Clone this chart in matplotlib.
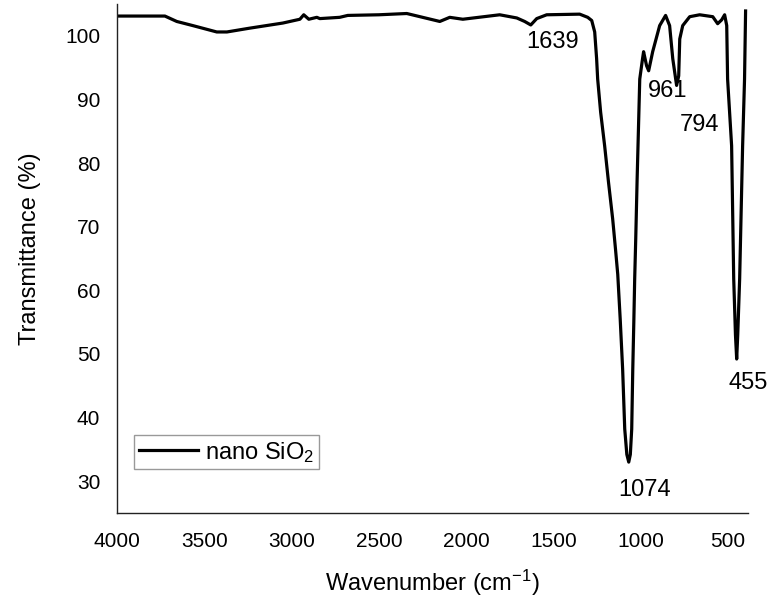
import matplotlib
matplotlib.use("Agg")
import matplotlib.pyplot as plt

plt.rcParams["font.family"] = ["Liberation Sans", "DejaVu Sans"]
plt.rcParams["mathtext.default"] = "regular"

# espectro FTIR
wavenumber = [4000, 3800, 3725, 3657, 3565, 3428, 3370, 3239, 3050, 2952,
              2930, 2901, 2855, 2838, 2724, 2678, 2500, 2340, 2151, 2094,
              2019, 1808, 1710, 1665, 1630, 1596, 1539, 1350, 1304, 1281,
              1264, 1253, 1247, 1230, 1207, 1185, 1161, 1145, 1132, 1118,
              1104, 1092, 1080, 1069, 1060, 1052, 1046, 1040, 1035, 1029,
              1021, 1012, 1006, 990, 984, 967, 955, 932, 892, 858,
              835, 817, 795, 783, 777, 760, 720, 663, 588, 560,
              537, 520, 508, 503, 480, 468, 458, 451, 445, 434,
              417, 406, 400]
transmittance = [103.1, 103.1, 103.1, 102.25, 101.6, 100.6, 100.6, 101.2, 102.0, 102.6,
                 103.3, 102.6, 102.9, 102.7, 102.9, 103.2, 103.3, 103.5, 102.25, 102.9,
                 102.6, 103.3, 102.8, 102.25, 101.7, 102.7, 103.3, 103.4, 102.9, 102.4,
                 100.6, 96.4, 93.2, 88.0, 82.7, 77.0, 71.2, 66.5, 62.5, 55.5,
                 47.6, 38.2, 34.2, 33.0, 34.2, 38.2, 47.6, 55.0, 61.8, 68.1,
                 77.5, 86.9, 93.2, 96.4, 97.5, 95.3, 94.5, 97.5, 101.6, 103.2,
                 101.6, 96.4, 92.2, 93.7, 99.5, 101.6, 103.0, 103.3, 103.0, 101.9,
                 102.5, 103.3, 101.6, 93.2, 82.7, 61.8, 53.0, 49.2, 53.0, 61.8,
                 82.7, 93.2, 103.9]

# etiquetas de picos: texto, x, y
picos = ["1639", "961", "794", "1074", "455"]
picos_x = [1507, 846, 663, 978, 385]
picos_y = [99.06, 91.27, 86.0, 28.66, 45.5]

fig = plt.figure(figsize=(7.74, 6.01), dpi=100)
ax = fig.add_axes([0.151, 0.1464, 0.815, 0.847])

ax.plot(wavenumber, transmittance, color="black", linewidth=2.3,
        solid_joinstyle="round", label="nano SiO$_2$")

for texto, x, y in zip(picos, picos_x, picos_y):
    ax.text(x, y, texto, ha="center", va="center", fontsize=17)

ax.set_xlim(4000, 388)
ax.set_ylim(25, 105)
ax.set_xticks([4000, 3500, 3000, 2500, 2000, 1500, 1000, 500])
ax.set_yticks([30, 40, 50, 60, 70, 80, 90, 100])
ax.tick_params(length=0, labelsize=15)
ax.tick_params(axis="x", pad=14)
ax.tick_params(axis="y", pad=12)

for lado in ["top", "right"]:
    ax.spines[lado].set_visible(False)
for lado in ["left", "bottom"]:
    ax.spines[lado].set_color("#222222")
    ax.spines[lado].set_linewidth(1.0)

ax.set_xlabel("Wavenumber (cm$^{-1}$)", fontsize=17)
ax.set_ylabel("Transmittance (%)", fontsize=17)
ax.xaxis.set_label_coords(0.5, -0.108)
ax.yaxis.set_label_coords(-0.12, 0.52)

leg = ax.legend(loc="lower left", bbox_to_anchor=(0.027, 0.086), borderaxespad=0,
                fontsize=17, handlelength=2.5, handletextpad=0.3, borderpad=0.2,
                fancybox=False, framealpha=1)
leg.get_frame().set_edgecolor("#999999")
leg.get_frame().set_linewidth(1.0)

plt.savefig("out.png", dpi=100)
